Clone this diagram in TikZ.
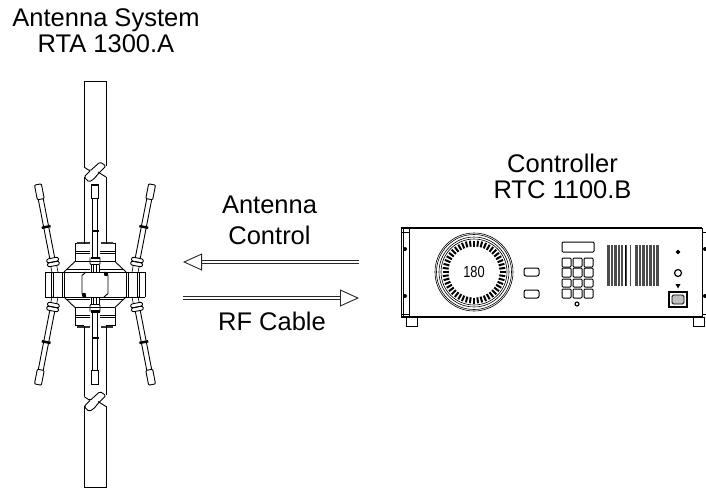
\documentclass[tikz,border=0pt]{standalone}
\usepackage{fontspec}
\setmainfont{Liberation Sans}
\usetikzlibrary{
  arrows.meta,
  positioning,
  calc
}
\tikzset{
  label/.style={font=\fontsize{25.5}{26}\selectfont, anchor=base, inner sep=0pt, text=black},
  thinline/.style={line width=0.6pt, black},
  midline/.style={line width=0.9pt, black},
  rackline/.style={line width=1.7pt, black},
  key/.style={line width=1pt, black, rounded corners=1pt},
  hollow/.style={
    line width=1.3pt, black!85, double=white, double distance=1.2pt,
    -{Triangle[open, length=19pt, width=17pt, line width=0.9pt, fill=white]}
  },
  antquarter/.pic={
    % wing and body
    \draw[midline] (-50,-12.5) -- (-50,0);
    \draw[midline] (-50,-12.5) -- (0,-12.5);
    \draw[thinline] (-44,-12.5) -- (-44,0) (-42,-12.5) -- (-42,0) (-33,-12.5) -- (-33,0);
    \draw[midline] (-31,-12.5) -- (-31,0);
    \draw[thinline] (-29,-15) -- (-5,-15);
    \draw[midline] (-31,-12.5) -- (-20,-23) -- (0,-23);
    \draw[midline] (-20,-23) -- (-20,-41) -- (-11,-41);
    \draw[midline] (-20,-33) -- (-5,-33);
    \draw[thinline] (-20,-31) -- (-5,-31);
    \fill[black!80] (-18,-43) rectangle (-5.5,-41);
    % panel
    \draw[midline] (-13,0) -- (-13,-9) -- (-9,-12.5);
    % mast
    \draw[midline] (-11,-41) -- (-11,-107.5);
    % centre rod
    \draw[midline] (-2.5,-86) -- (-2.5,-27);
    \draw[thinline] (-4,-20) -- (-4,-12.5) (-1.5,-20) -- (-1.5,-12.5);
    \draw[midline] (-3.5,-99.5) -- (-3.5,-86) -- (0,-86);
    \fill[black] (-4,-100.5) rectangle (0,-99);
    \fill[black] (-3.5,-54.5) rectangle (0,-52.5);
    \draw[midline, rounded corners=1pt] (-5,-27) -- (-5,-20) -- (0,-20);
    \fill[black] (-4.5,-28) rectangle (0,-25.5);
    % whip
    \begin{scope}[shift={(-42,-22.5)}, rotate=11]
      \draw[midline, rounded corners=2pt] (-6,-4) rectangle (6,0);
      \draw[midline, rounded corners=2pt] (-6,0) rectangle (6,4);
      \draw[thinline] (-3,4) -- (-3,11) (3,4) -- (3,11);
      \draw[midline] (-2.5,-4) -- (-2.5,-64) (2.5,-4) -- (2.5,-64);
      \draw[midline, rounded corners=1pt] (-3.5,-79) rectangle (3.5,-64);
      \fill[black] (-4.5,-37) rectangle (4.5,-34.5);
    \end{scope}
  },
  mastbreak/.pic={
    \draw[midline, rounded corners=1.5pt] (84,167) -- (90,171) -- (100,162) -- (106,166) -- (98,174) -- (94,179) -- (89,182) -- (84,177) -- (90,171);
    \draw[midline] (98,172) -- (106,177);
  }
}

\begin{document}
\begin{tikzpicture}[x=1pt, y=-1pt]
  \useasboundingbox (0,0) rectangle (706,488);

  \node[label] (antname) at (106,26) {Antenna System};
  \node[label] (antmodel) at (106,52) {RTA 1300.A};
  \node[label] (ctrlname) at (562.5,172) {Controller};
  \node[label] (ctrlmodel) at (562.5,198) {RTC 1100.B};
  \node[label] (ctrllabel) at (269.5,213) {Antenna};
  \node[label] (ctrllabelb) at (269.5,244) {Control};
  \node[label] (rflabel) at (272,330) {RF Cable};

  % antenna
  \pic at (95,284.5) {antquarter};
  \pic[xscale=-1] at (95,284.5) {antquarter};
  \pic[yscale=-1] at (95,284.5) {antquarter};
  \pic[scale=-1] at (95,284.5) {antquarter};
  \fill[white] (83,392) rectangle (107,412);
  \fill[white] (83,157) rectangle (107,183);
  \draw[midline] (84,167) -- (84,81) -- (106,81) -- (106,166);
  \draw[midline] (84,177) -- (84,183) (106,177) -- (106,183);
  \draw[midline] (84,387) -- (84,396) (106,387) -- (106,395);
  \draw[midline] (84,406) -- (84,487) -- (106,487) -- (106,406);
  \pic at (0,0) {mastbreak};
  \pic at (0,229.5) {mastbreak};
  \fill (106,274) circle (2.2);
  \fill (84,295) circle (2.2);

  % controller
  \draw[rackline] (401,228) -- (702,228);
  \draw[rackline] (401,317) -- (702,317);
  \draw[midline] (401,228) -- (401,317);
  \draw[thinline] (403,228) -- (403,317) (409,228) -- (409,317);
  \draw[midline] (702,228) -- (702,317);
  \draw[thinline] (401,232) -- (409,232) (401,314) -- (409,314);
  \draw[thinline] (702,232) -- (706,232) (702,314) -- (706,314);
  \fill (405,249) circle (2) (405,296) circle (2);
  \fill (705,249) circle (2) (705,296) circle (2);
  \draw[midline] (406,317) rectangle (417,326);
  \draw[midline] (693,317) rectangle (704,326);

  \foreach \rad in {39,37.5,35,33} {
    \draw[thinline] (474,272) circle (\rad);
  }
  \foreach \ang in {0,7.5,...,352.5} {
    \draw[line width=2pt] ($(474,272)+(\ang:25.5)$) -- ($(474,272)+(\ang:31.5)$);
  }
  \node[font=\fontsize{16}{16}\selectfont, xscale=0.8, inner sep=0pt] (dialval) at (474,272) {180};

  \draw[key, rounded corners=2pt] (524,268) rectangle (539,276);
  \draw[key, rounded corners=2pt] (524,290) rectangle (539,298);
  \draw[key] (562,242) rectangle (594,252);
  \foreach \kx in {562,573,584} {
    \foreach \ky/\kh in {258/9,268/9,279/8,289/9} {
      \draw[key] (\kx,\ky) rectangle ++(9,\kh);
    }
  }
  \draw[line width=1.1pt] (577,304) circle (2);

  \foreach \hx in {607,608.4,...,659} {
    \draw[line width=0.8pt, black!70] (\hx,245) -- (\hx,286);
  }
  \fill[white] (622.5,244) rectangle (624,287);
  \fill[white] (628,244) rectangle (630,287);
  \fill[white] (632,244) rectangle (635,287);
  \draw[line width=1.6pt] (625.5,245) -- (625.5,286);

  \draw[midline, fill=black] (678,252) circle (1.8);
  \draw[line width=1.2pt] (678,273) circle (3.5);
  \fill (675.5,284) -- (680.5,284) -- (678,288.5) -- cycle;
  \draw[line width=1.2pt] (669,292) rectangle (687,307);
  \draw[midline, rounded corners=1.5pt, fill=black!25] (672,295) rectangle (684,304);

  % links
  \coordinate (ctrlfrom) at (358.5,262);
  \coordinate (ctrlto) at (183,262);
  \coordinate (rffrom) at (182.5,298);
  \coordinate (rfto) at (359,298);
  \draw[hollow] (ctrlfrom) -- (ctrlto);
  \draw[hollow] (rffrom) -- (rfto);
\end{tikzpicture}
\end{document}
